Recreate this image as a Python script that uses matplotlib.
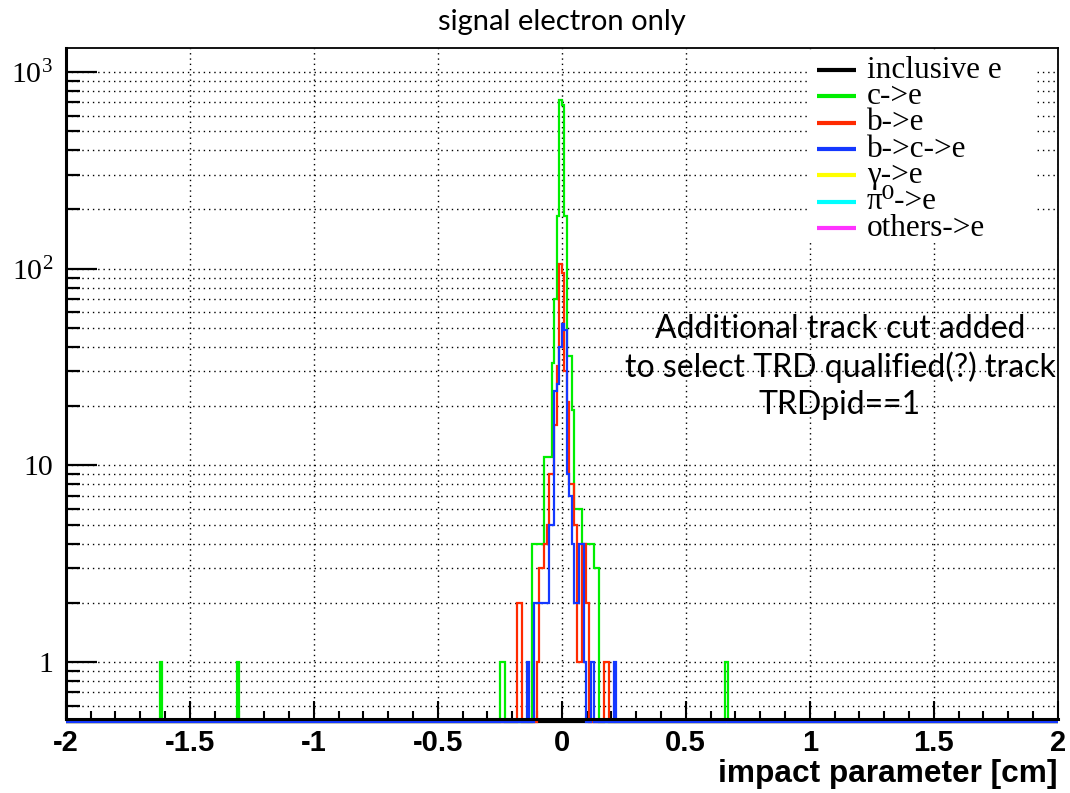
import numpy as np
import matplotlib
matplotlib.use("Agg")
import matplotlib.pyplot as plt
from matplotlib.lines import Line2D
from matplotlib.patches import Rectangle
from matplotlib.ticker import LogLocator, NullFormatter

plt.rcParams['axes.unicode_minus'] = False

# binning of the impact parameter histograms (400 bins of 0.01 cm)
x_lo, x_hi, n_bins = -2.0, 2.0, 400

# c->e : bin centres [cm] and entries
c_x = [-1.615, -1.305, -0.245, -0.235, -0.115, -0.105, -0.095, -0.085, -0.075,
       -0.065, -0.055, -0.045, -0.035, -0.025, -0.015, -0.005, 0.005, 0.015,
       0.025, 0.035, 0.045, 0.055, 0.065, 0.075, 0.085, 0.095, 0.105, 0.115,
       0.125, 0.135, 0.145, 0.665]
c_n = [1, 1, 1, 1, 4, 4, 4, 4, 4,
       11, 11, 11, 33, 70, 185, 720, 680, 185,
       36, 36, 19, 6, 6, 6, 4, 4, 4, 4,
       4, 3, 3, 1]

# b->e
b_x = [-0.175, -0.165, -0.095, -0.085, -0.075, -0.065, -0.055, -0.045, -0.035,
       -0.025, -0.015, -0.005, 0.005, 0.015, 0.025, 0.035, 0.045, 0.055,
       0.065, 0.075, 0.085, 0.095, 0.105, 0.175, 0.185]
b_n = [2, 2, 1, 3, 3, 4, 5, 9, 9,
       16, 32, 105, 95, 30, 21, 8, 8, 5,
       1, 1, 4, 4, 2, 1, 1]

# b->c->e
bc_x = [-0.135, -0.105, -0.095, -0.085, -0.075, -0.065, -0.055, -0.045, -0.035,
        -0.025, -0.015, -0.005, 0.005, 0.015, 0.025, 0.035, 0.045, 0.055,
        0.065, 0.075, 0.085, 0.095, 0.125, 0.215]
bc_n = [1, 2, 2, 2, 2, 2, 2, 5, 5,
        24, 26, 40, 52, 49, 9, 7, 4, 2,
        2, 4, 4, 1, 1, 1]

# inclusive e has no entries in this selection
incl_x = []
incl_n = []

legend_labels = ["inclusive e", "c->e", "b->e", "b->c->e", "\u03b3->e",
                 "\u03c0\u2070->e", "others->e"]
legend_colors = ["#000000", "#00ee00", "#ff2a00", "#1438ff", "#ffff00",
                 "#00ffff", "#ff33ff"]

x_ticks = [-2, -1.5, -1, -0.5, 0, 0.5, 1, 1.5, 2]
x_labels = ["-2", "-1.5", "-1", "-0.5", "0", "0.5", "1", "1.5", "2"]
y_ticks = [1, 10, 100, 1000]
y_labels = ["1", "10", r"$\mathregular{10^{2}}$", r"$\mathregular{10^{3}}$"]

y_min, y_max = 0.513, 1324

edges = np.linspace(x_lo, x_hi, n_bins + 1)
# empty bins are drawn just under the frame, like the ROOT log-scale outline
y_floor = y_min * 10 ** (-3.4 / 196.7)


def fill(xs, ns):
    h, _ = np.histogram(xs, bins=edges, weights=ns)
    return np.where(h > 0, h, y_floor)


fig = plt.figure(figsize=(10.7, 7.93), dpi=100)
ax = fig.add_axes([65.7 / 1070, 1 - 719 / 793, 992 / 1070, 671 / 793])
ax.set_axisbelow(True)

series = [(incl_x, incl_n), (c_x, c_n), (b_x, b_n), (bc_x, bc_n)]
for (xs, ns), col in zip(series, legend_colors[:4]):
    ax.stairs(fill(xs, ns), edges, baseline=None, color=col, lw=1.6,
              clip_on=False, zorder=2)

ax.set_yscale("log")
ax.set_xlim(x_lo, x_hi)
ax.set_ylim(y_min, y_max)

ax.set_xticks(x_ticks, x_labels, fontfamily="Liberation Sans",
              fontweight="bold", fontsize=21)
ax.set_xticks(np.arange(-2, 2.001, 0.1), minor=True)
ax.set_yticks(y_ticks, y_labels, fontfamily="Liberation Serif", fontsize=21.5)
ax.yaxis.set_minor_locator(LogLocator(base=10, subs=np.arange(2, 10)))
ax.yaxis.set_minor_formatter(NullFormatter())

ax.tick_params(axis="x", which="major", direction="in", length=13, width=1.5,
               pad=7, top=False)
ax.tick_params(axis="x", which="minor", direction="in", length=5.5, width=1.5,
               top=False)
ax.tick_params(axis="y", which="major", direction="in", length=22, width=1.6,
               pad=9, right=False)
ax.tick_params(axis="y", which="minor", direction="in", length=10, width=1.6,
               right=False)

grid_style = dict(color="#000000", lw=1.0, linestyle=(0, (1, 2.8)))
ax.grid(True, which="major", axis="x", **grid_style)
ax.grid(True, which="both", axis="y", **grid_style)

ax.spines["left"].set_linewidth(2.2)
ax.spines["bottom"].set_linewidth(2.2)
ax.spines["top"].set_linewidth(1.3)
ax.spines["right"].set_linewidth(1.3)
for s in ax.spines.values():
    s.set_zorder(5)

ax.set_xlabel("impact parameter [cm]", fontfamily="Liberation Sans",
              fontweight="bold", fontsize=22.8, ha="right", va="top")
ax.xaxis.set_label_coords(1.0, -0.059)

ax.text(0.5, 1.0387, "signal electron only", transform=ax.transAxes,
        ha="center", va="center", fontfamily="Lato", fontsize=21)

ax.text(0.7805, 0.5246,
        "Additional track cut added\nto select TRD qualified(?) track\nTRDpid==1",
        transform=ax.transAxes, ha="center", va="center", fontfamily="Lato",
        fontsize=23, linespacing=1.3, zorder=6)

# legend, ROOT style: white box without border
ax.add_patch(Rectangle((0.7495, 0.7094), 0.2296, 0.2846, transform=ax.transAxes,
                       facecolor="white", edgecolor="none", zorder=3))
for i, (lab, col) in enumerate(zip(legend_labels, legend_colors)):
    yy = 0.9672 - i * 0.0393
    ax.add_line(Line2D([0.7577, 0.7967], [yy, yy], transform=ax.transAxes,
                       color=col, lw=3.0, zorder=4, solid_capstyle="butt"))
    ax.text(0.8075, yy, lab, transform=ax.transAxes, ha="left", va="center",
            fontfamily=["Liberation Serif", "DejaVu Serif"], fontsize=22.5,
            zorder=4)

fig.savefig("out.png", dpi=100, facecolor="white")
